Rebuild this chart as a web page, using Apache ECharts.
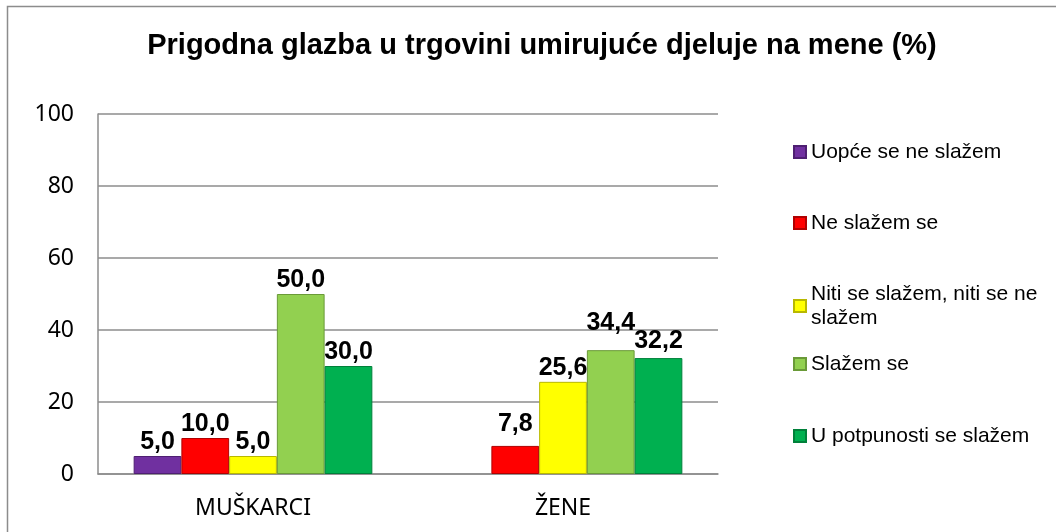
<!DOCTYPE html>
<html><head><meta charset="utf-8">
<script src="https://cdn.jsdelivr.net/npm/echarts@6/dist/echarts.min.js"></script>
<style>html,body{margin:0;padding:0;background:#fff}#c{width:1056px;height:532px}</style>
</head><body><div id="c"></div>
<script>
const title = 'Prigodna glazba u trgovini umirujuće djeluje na mene (%)';
const categories = ['MUŠKARCI', 'ŽENE'];
const seriesNames = ['Uopće se ne slažem', 'Ne slažem se', 'Niti se slažem, niti se ne slažem', 'Slažem se', 'U potpunosti se slažem'];
const uopce = [5.0, null];
const neSlazem = [10.0, 7.8];
const niti = [5.0, 25.6];
const slazem = [50.0, 34.4];
const potpuno = [30.0, 32.2];
const yTicks = [0, 20, 40, 60, 80, 100];

const values = [uopce, neSlazem, niti, slazem, potpuno];
const colors = ['#7030A0', '#FF0000', '#FFFF00', '#92D050', '#00B050'];
const borders = ['#4e1f72', '#b00000', '#b8b800', '#6a9a38', '#00803a'];
// extra upward shift (px) of individual value labels, as placed in the original
const labelLift = [[0, 0], [0, 8], [0, 0], [0, 14], [0, 3]];
const legendTops = [140, 211, 282, 352, 424];
const legendLabels = ['Uopće se ne slažem', 'Ne slažem se', 'Niti se slažem, niti se ne\nslažem', 'Slažem se', 'U potpunosti se slažem'];

const chart = echarts.init(document.getElementById('c'), null, {renderer: 'canvas'});
const series = seriesNames.map((n, i) => ({
  name: n, type: 'bar',
  data: values[i].map((v, j) => ({value: v, label: {offset: [0, -labelLift[i][j]]}})),
  barGap: '0%', barCategoryGap: '23%',
  itemStyle: {
    color: new echarts.graphic.LinearGradient(0, 0, 1, 0, [
      {offset: 0, color: colors[i]}, {offset: 0.5, color: colors[i]}, {offset: 1, color: colors[i]}
    ]),
    borderColor: borders[i], borderWidth: 1
  },
  label: {
    show: true, position: 'top', distance: 1,
    fontFamily: 'Liberation Sans, Arial, sans-serif', fontWeight: 'bold', fontSize: 25, color: '#000',
    formatter: p => p.value == null ? '' : Number(p.value).toFixed(1).replace('.', ',')
  }
}));

const legends = seriesNames.map((n, i) => ({
  orient: 'vertical', left: 793, top: legendTops[i], padding: 0,
  data: [n], itemWidth: 12, itemHeight: 12, icon: 'rect',
  formatter: () => legendLabels[i],
  textStyle: {fontFamily: 'Liberation Sans, Arial, sans-serif', fontSize: 21, color: '#000', lineHeight: 24},
  itemGap: 4
}));

chart.setOption({
  animation: false,
  backgroundColor: '#fff',
  color: colors,
  title: {
    text: title, left: 537, top: 26, textAlign: 'center',
    textStyle: {fontFamily: 'Liberation Sans, Arial, sans-serif', fontWeight: 'bold', fontSize: 29, color: '#000'}
  },
  graphic: [{type: 'rect', shape: {x: 7.5, y: 6.5, width: 1200, height: 700}, style: {fill: 'none', stroke: '#8c8c8c', lineWidth: 1.5}, silent: true, z: -1}],
  legend: legends,
  grid: {left: 98, right: 338, top: 114, bottom: 58},
  xAxis: {
    type: 'category', data: categories,
    axisLine: {lineStyle: {color: '#8c8c8c', width: 1.5}},
    axisTick: {show: false},
    axisLabel: {fontFamily: 'Noto Sans, sans-serif', fontSize: 23, color: '#000', margin: 23}
  },
  yAxis: {
    type: 'value', min: yTicks[0], max: yTicks[yTicks.length - 1], interval: 20,
    axisLine: {show: true, lineStyle: {color: '#8c8c8c', width: 1.5}},
    axisTick: {show: false},
    splitLine: {lineStyle: {color: '#8c8c8c', width: 1.5}},
    axisLabel: {fontFamily: 'Noto Sans, sans-serif', fontSize: 23, color: '#000', margin: 24}
  },
  series: series
});
</script></body></html>
